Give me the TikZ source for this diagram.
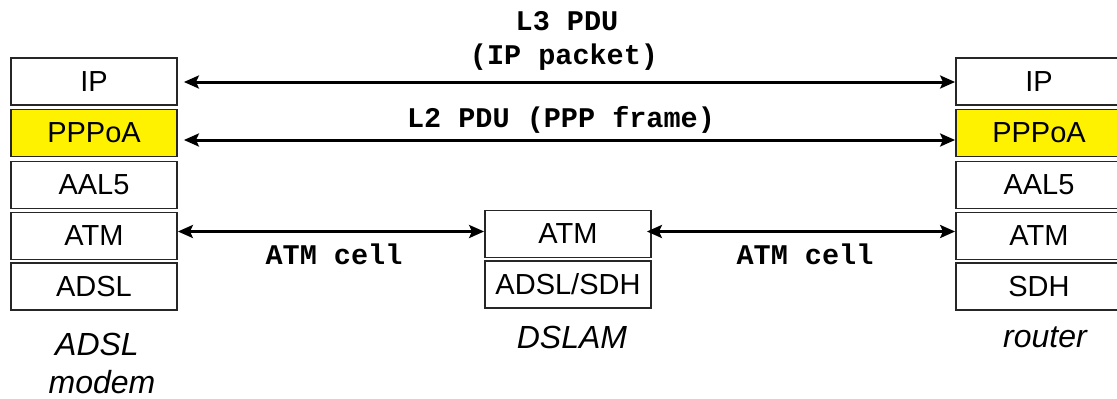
\documentclass[tikz,border=0pt]{standalone}
\usepackage{fontspec}
\setmainfont{Liberation Sans}
\newfontfamily\monofont{Liberation Mono}
\usetikzlibrary{arrows.meta}
\tikzset{
  layer/.style={draw=black!85, line width=1.8pt, minimum width=166pt, minimum height=47pt,
    inner sep=0pt, font=\fontsize{29}{34}\selectfont, text=black},
  hilite/.style={layer, fill=yellow},
  tip/.style={Stealth[length=15pt,width=13pt,inset=3pt]},
  arr/.style={line width=3pt, {Stealth[length=15pt,width=13pt,inset=3pt]}-{Stealth[length=15pt,width=13pt,inset=3pt]}},
  pdu/.style={font=\monofont\bfseries\fontsize{28.5}{34}\selectfont, inner sep=0pt, anchor=base},
  devname/.style={font=\itshape\fontsize{32}{38}\selectfont, inner sep=0pt, anchor=base}
}
\begin{document}
\begin{tikzpicture}[x=1pt, y=-1pt]
\useasboundingbox (0,0) rectangle (1117,399);
\clip (0,0) rectangle (1117,399);

% ADSL modem stack
\node[layer]  (ipA)   at (94,81.5) {IP};
\node[hilite] (pppA)  at (94,133)  {PPPoA};
\node[layer]  (aalA)  at (94,185)  {AAL5};
\node[layer]  (atmA)  at (94,236)  {ATM};
\node[layer]  (phyA)  at (94,286.5){ADSL};

% DSLAM stack
\node[layer]  (atmD)  at (568,234)   {ATM};
\node[layer]  (phyD)  at (568,284.5) {ADSL/SDH};

% router stack (runs off the right edge)
\node[layer]  (ipR)   at (1039,81.5) {IP};
\node[hilite] (pppR)  at (1039,133)  {PPPoA};
\node[layer]  (aalR)  at (1039,185)  {AAL5};
\node[layer]  (atmR)  at (1039,236)  {ATM};
\node[layer]  (phyR)  at (1039,286.5){SDH};

% peer-to-peer links
\draw[arr] ([xshift=6pt]ipA.east |- 0,82) -- (ipR.west |- 0,82);
\draw[arr] ([xshift=6pt]pppA.east |- 0,140) -- (pppR.west |- 0,140);
\draw[arr] (atmA.east |- 0,231.5) -- (atmD.west |- 0,231.5);
\draw[arr] ([xshift=-5pt]atmD.east |- 0,231.5) -- (atmR.west |- 0,231.5);

% PDU labels
\node[pdu] (l3a) at (567,30) {L3 PDU};
\node[pdu] (l3b) at (564,64) {(IP packet)};
\node[pdu] (l2)  at (561,127) {L2 PDU (PPP frame)};
\node[pdu] (cellA) at (334,264) {ATM cell};
\node[pdu] (cellR) at (805,264) {ATM cell};

% device names
\node[devname] (nmA1) at (97,355) {ADSL};
\node[devname] (nmA2) at (102,393) {modem};
\node[devname] (nmD) at (572,348) {DSLAM};
\node[devname] (nmR) at (1045,347) {router};
\end{tikzpicture}
\end{document}
